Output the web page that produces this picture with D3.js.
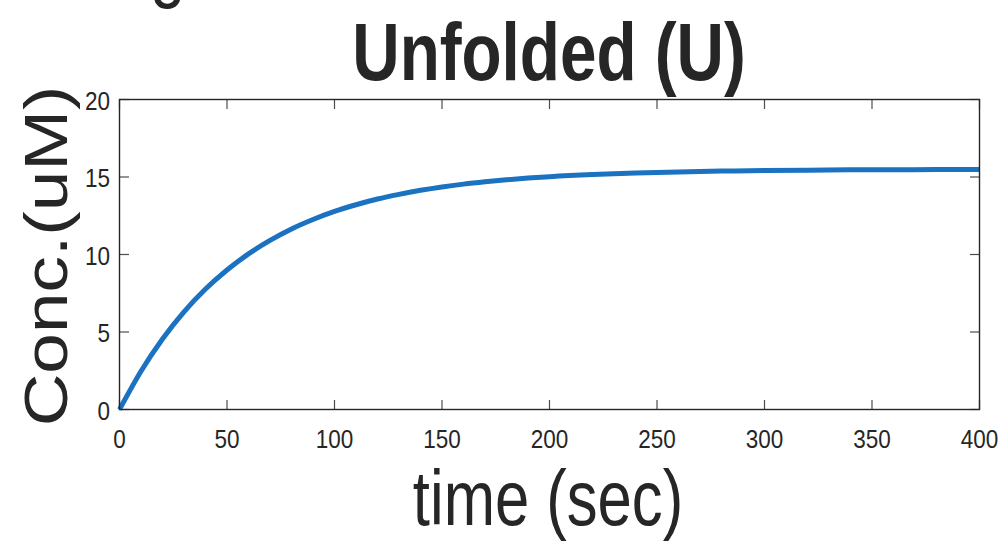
<!DOCTYPE html>
<html><head><meta charset="utf-8">
<script src="https://cdn.jsdelivr.net/npm/d3@7"></script>
<style>html,body{margin:0;padding:0;background:#fff;}svg{display:block;}</style>
</head><body>
<script>
const timeSec = [0,10,20,30,40,50,60,70,80,90,100,110,120,130,140,150,160,170,180,190,200,220,240,260,280,300,320,340,360,380,400];
const concU  = [0,2.47,4.55,6.30,7.77,9.00,10.04,10.91,11.65,12.26,12.78,13.21,13.58,13.88,14.14,14.36,14.54,14.69,14.82,14.93,15.02,15.16,15.26,15.33,15.38,15.42,15.44,15.46,15.47,15.48,15.48];
const xTicks = [0,50,100,150,200,250,300,350,400];
const yTicks = [0,5,10,15,20];
const titleText = "Unfolded (U)";
const xLabel = "time (sec)";
const yLabel = "Conc.(uM)";

const W = 1002, H = 541;
const L = 119.5, R = 979.5, T = 99.5, B = 409.5;
const svg = d3.select("body").append("svg").attr("width", W).attr("height", H);
const x = d3.scaleLinear().domain([0,400]).range([L,R]);
const y = d3.scaleLinear().domain([0,20]).range([B,T]);
const txt = "#262626";
const font = "'Liberation Sans', Arial, Helvetica, sans-serif";

// partial glyph cut off at the top edge (as in the reference)
svg.append("text").attr("transform","translate(150,-8) scale(0.8,1)")
  .attr("font-family",font).attr("font-size",80).attr("fill",txt).text("g");

// ticks (inside)
const tl = 9.5;
const tg = svg.append("g").attr("stroke","#4d4d4d").attr("stroke-width",1.2);
xTicks.forEach(t => {
  tg.append("line").attr("x1",x(t)).attr("x2",x(t)).attr("y1",B).attr("y2",B-tl);
  tg.append("line").attr("x1",x(t)).attr("x2",x(t)).attr("y1",T).attr("y2",T+tl);
});
yTicks.forEach(t => {
  tg.append("line").attr("x1",L).attr("x2",L+tl).attr("y1",y(t)).attr("y2",y(t));
  tg.append("line").attr("x1",R).attr("x2",R-tl).attr("y1",y(t)).attr("y2",y(t));
});

// data line
const line = d3.line().x((d,i)=>x(timeSec[i])).y(d=>y(d)).curve(d3.curveMonotoneX);
svg.append("path").datum(concU).attr("d",line).attr("fill","none")
  .attr("stroke","#1a72c1").attr("stroke-width",5).attr("stroke-linejoin","round");

// box
svg.append("rect").attr("x",L).attr("y",T).attr("width",R-L).attr("height",B-T)
  .attr("fill","none").attr("stroke","#262626").attr("stroke-width",1.4);

// tick labels
xTicks.forEach(t => {
  svg.append("text").attr("transform",`translate(${x(t)},${448}) scale(0.9,1.03)`)
    .attr("text-anchor","middle").attr("font-family",font).attr("font-size",25)
    .attr("fill",txt).text(t);
});
yTicks.forEach(t => {
  svg.append("text").attr("transform",`translate(${110},${y(t)+10}) scale(0.9,1.03)`)
    .attr("text-anchor","end").attr("font-family",font).attr("font-size",25)
    .attr("fill",txt).text(t);
});

// title
svg.append("text").attr("transform","translate(549,80) scale(0.81,1)")
  .attr("text-anchor","middle").attr("font-family",font).attr("font-weight","bold")
  .attr("font-size",81).attr("fill",txt).text(titleText);

// x label
svg.append("text").attr("transform","translate(548,525) scale(0.8,1)")
  .attr("text-anchor","middle").attr("font-family",font)
  .attr("font-size",77).attr("fill",txt).text(xLabel);

// y label
svg.append("text").attr("transform","translate(67,256) scale(0.84,1) rotate(-90)")
  .attr("text-anchor","middle").attr("font-family",font)
  .attr("font-size",73).attr("fill",txt).text(yLabel);
</script>
</body></html>
